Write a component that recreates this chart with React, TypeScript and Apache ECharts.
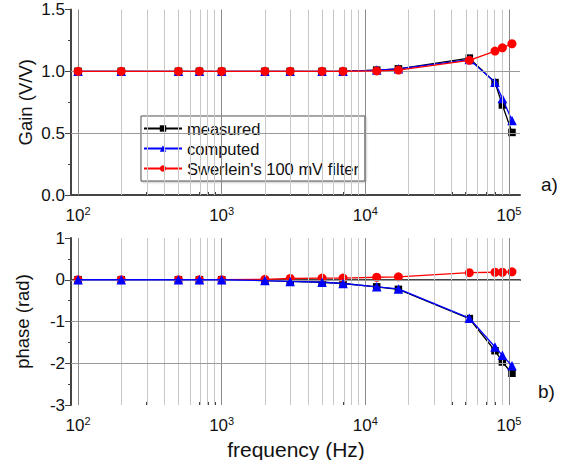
import React, { useEffect, useRef } from "react";
import * as echarts from "echarts";

const freqs = [100, 200, 500, 700, 1000, 2000, 3000, 5000, 7000, 12000, 17000, 53000, 80000, 90000, 105000];
const gainMeasured = [1, 1, 1, 1, 1, 1, 1, 1, 1, 1.01, 1.02, 1.107, 0.909, 0.728, 0.506];
const gainComputed = [1, 1, 1, 1, 1, 1, 1, 1, 1, 1.01, 1.02, 1.095, 0.912, 0.78, 0.603];
const gainSwerlein = [1, 1, 1, 1, 1, 1, 1, 1, 1, 1.003, 1.01, 1.089, 1.164, 1.19, 1.223];
const phaseMeasured = [0, 0, 0, 0, 0, -0.02, -0.04, -0.06, -0.09, -0.17, -0.23, -0.93, -1.7, -1.97, -2.24];
const phaseComputed = [0, 0, 0, 0, 0, -0.02, -0.04, -0.06, -0.09, -0.17, -0.22, -0.92, -1.61, -1.81, -2.06];
const phaseSwerlein = [0, 0, 0, 0, 0, 0.01, 0.03, 0.04, 0.04, 0.06, 0.07, 0.17, 0.18, 0.18, 0.19];

const majorDecades = [2, 3, 4, 5];
const minorMultipliers = [2, 3, 4, 5, 6, 7, 8, 9];
const gainGridValues = [0.5, 1.0];
const phaseGridValues = [0, -1, -2];
const seriesNames = ["measured", "computed", "Swerlein's 100 mV filter"];

const X_MIN = 1.951;
const X_MAX = 5.077;
const FONT = "'Liberation Sans', Arial, sans-serif";

export default function App() {
  const ref = useRef<HTMLDivElement>(null);
  useEffect(() => {
    if (!ref.current) return;
    const chart = echarts.init(ref.current, null, { renderer: "svg" });
    const lx = freqs.map((f) => Math.log10(f));
    const pts = (ys: number[]) => lx.map((x, i) => [x, ys[i]]);
    const minorTicks: number[] = [];
    majorDecades.forEach((d) => {
      if (d < 5) minorMultipliers.forEach((m) => minorTicks.push(d + Math.log10(m)));
    });
    const majorVals = majorDecades.slice();

    const gridMarks = (hVals: number[]) => ({
      silent: true,
      symbol: ["none", "none"],
      label: { show: false },
      animation: false,
      data: [
        ...minorTicks.map((v) => ({ xAxis: v, lineStyle: { color: "#c8c8c8", width: 1, type: "solid" } })),
        ...majorVals.map((v) => ({ xAxis: v, lineStyle: { color: "#8a8a8a", width: 1, type: "solid" } })),
        ...hVals.map((v) => ({ yAxis: v, lineStyle: { color: "#9a9a9a", width: 1, type: "solid" } })),
      ],
    });

    const labelFmt = (v: number) => `{b|10}{s|${Math.round(v)}}`;
    const richLbl = {
      b: { fontSize: 17, fontFamily: FONT, color: "#111" },
      s: { fontSize: 11, fontFamily: FONT, color: "#111", padding: [0, 0, 9, 0] },
    };

    const xMajor = (gridIndex: number) => ({
      type: "value",
      gridIndex,
      min: X_MIN,
      max: X_MAX,
      axisLine: { show: true, lineStyle: { color: "#444", width: 2 } },
      axisTick: { show: true, inside: true, length: 6, customValues: majorVals, lineStyle: { color: "#444" } },
      axisLabel: { show: true, customValues: majorVals, formatter: labelFmt, rich: richLbl, margin: 10 },
      splitLine: { show: false },
    });
    const xMinor = (gridIndex: number) => ({
      type: "value",
      gridIndex,
      min: X_MIN,
      max: X_MAX,
      position: "bottom",
      axisLine: { show: false },
      axisTick: { show: true, inside: true, length: 3, customValues: minorTicks, lineStyle: { color: "#444" } },
      axisLabel: { show: false },
      splitLine: { show: false },
    });

    const yAxisBase = {
      type: "value",
      axisLine: { show: true, lineStyle: { color: "#444", width: 2 } },
      axisTick: { show: true, length: 6, lineStyle: { color: "#444" } },
      minorTick: { show: true, splitNumber: 2, length: 3, lineStyle: { color: "#444" } },
      splitLine: { show: false },
      nameLocation: "middle",
      nameMoveOverlap: false,
      nameTextStyle: { fontSize: 18.5, fontFamily: FONT, color: "#111" },
    };

    const mk = (name: string, data: number[][], xi: number, yi: number, color: string, symbol: string, size: number, z: number) => ({
      name,
      type: "line",
      xAxisIndex: xi,
      yAxisIndex: yi,
      data,
      symbol,
      symbolSize: size,
      lineStyle: { color, width: 1.3, type: "solid" },
      itemStyle: { color, borderWidth: 0 },
      z,
    });

    chart.setOption({
      animation: false,
      grid: [
        { left: 71, top: 9.5, width: 449, height: 185.5 },
        { left: 71, top: 238, width: 449, height: 167 },
      ],
      xAxis: [xMajor(0), xMinor(0), xMajor(1), xMinor(1)],
      yAxis: [
        {
          ...yAxisBase,
          gridIndex: 0,
          min: 0,
          max: 1.5,
          interval: 0.5,
          name: "Gain (V/V)",
          nameGap: 36,
          axisLabel: { formatter: (v: number) => v.toFixed(1), fontSize: 17, fontFamily: FONT, color: "#111", margin: 6 },
        },
        {
          ...yAxisBase,
          gridIndex: 1,
          min: -3,
          max: 1,
          interval: 1,
          name: "phase (rad)",
          nameGap: 39,
          axisLabel: { fontSize: 17, fontFamily: FONT, color: "#111", margin: 6 },
        },
      ],
      legend: {
        data: seriesNames,
        orient: "vertical",
        left: 141,
        top: 116,
        itemWidth: 38,
        itemHeight: 8,
        itemGap: 3,
        padding: [4, 6, 4, 2],
        borderColor: "#555",
        borderWidth: 1,
        backgroundColor: "#fff",
        shadowColor: "rgba(0,0,0,0.25)",
        shadowBlur: 2,
        shadowOffsetX: 1,
        shadowOffsetY: 1,
        textStyle: { fontSize: 16.5, fontFamily: FONT, color: "#111" },
      },
      graphic: [
        { type: "text", left: 541, top: 175, style: { text: "a)", fontSize: 19, fontFamily: FONT, fill: "#111" } },
        { type: "text", left: 538, top: 382, style: { text: "b)", fontSize: 19, fontFamily: FONT, fill: "#111" } },
        {
          type: "text",
          x: 296,
          y: 449,
          style: { text: "frequency (Hz)", fontSize: 21, fontFamily: FONT, fill: "#111", align: "center", verticalAlign: "middle" },
        },
      ],
      series: [
        {
          name: "grid-top",
          type: "line",
          xAxisIndex: 0,
          yAxisIndex: 0,
          data: [],
          z: 0,
          markLine: gridMarks(gainGridValues),
        },
        {
          name: "grid-bottom",
          type: "line",
          xAxisIndex: 2,
          yAxisIndex: 1,
          data: [],
          z: 0,
          markLine: gridMarks(phaseGridValues),
        },
        mk(seriesNames[0], pts(gainMeasured), 0, 0, "#000000", "rect", 7.5, 3),
        mk(seriesNames[1], pts(gainComputed), 0, 0, "#0000ff", "triangle", 9.5, 4),
        mk(seriesNames[2], pts(gainSwerlein), 0, 0, "#ff0000", "circle", 9, 5),
        mk(seriesNames[0], pts(phaseMeasured), 2, 1, "#000000", "rect", 7.5, 3),
        mk(seriesNames[2], pts(phaseSwerlein), 2, 1, "#ff0000", "circle", 9, 4),
        mk(seriesNames[1], pts(phaseComputed), 2, 1, "#0000ff", "triangle", 9.5, 5),
      ],
    });
    return () => chart.dispose();
  }, []);
  return <div ref={ref} style={{ position: "fixed", left: 0, top: 0, width: 576, height: 460, background: "#fff" }} />;
}
